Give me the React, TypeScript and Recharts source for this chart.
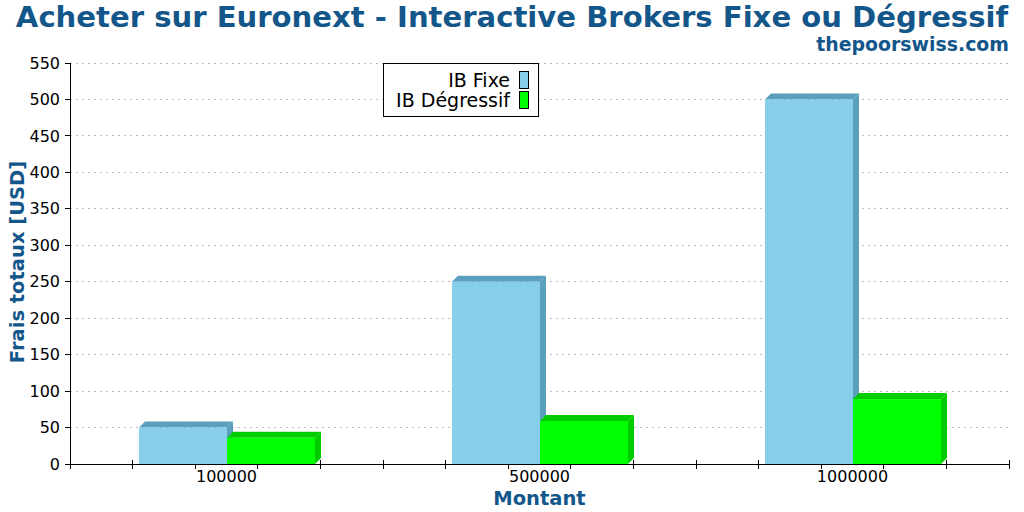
import React from "react";
import {
  BarChart,
  Bar,
  XAxis,
  YAxis,
  CartesianGrid,
} from "recharts";

const montants = ["100000", "500000", "1000000"];
const fraisFixe = [50, 250, 500];
const fraisDegressif = [36, 59, 89];
const yTicks = [0, 50, 100, 150, 200, 250, 300, 350, 400, 450, 500, 550];
// five minor tick steps per category
const minorSteps = [0, 1, 2, 3, 4, 5, 6, 7, 8, 9, 10, 11, 12, 13, 14, 15];

const seriesNames = ["IB Fixe", "IB Dégressif"];
const seriesColors = ["#87ceeb", "#00ff00"];
const seriesShades = ["#5a9fbc", "#00cc00"];

const TITLE_COLOR = "#13568a";
const FONT = "'DejaVu Sans', sans-serif";
const DEPTH = 6;
const PLOT_BOTTOM = 464;

const data = montants.map((m, i) => ({
  montant: m,
  fixe: fraisFixe[i],
  degressif: fraisDegressif[i],
}));

// front face + top + right side, a fake 3d block
const make3dBar = (front: string, shade: string) => (props: any) => {
  const { x, y, width, height } = props;
  if (!height || height <= 0) return <g />;
  const d = DEPTH;
  return (
    <g>
      <polygon
        points={`${x},${y} ${x + d},${y - d} ${x + width + d},${y - d} ${x + width},${y}`}
        fill={shade}
      />
      <polygon
        points={`${x + width},${y} ${x + width + d},${y - d} ${x + width + d},${y + height - d} ${x + width},${y + height}`}
        fill={shade}
      />
      <rect x={x} y={y} width={width} height={height} fill={front} />
    </g>
  );
};

const minorTickCoords = ({ offset }: any) =>
  minorSteps.map(
    (s) => offset.left + (s * offset.width) / minorSteps[minorSteps.length - 1]
  );

const axisLineStyle = { stroke: "#000", shapeRendering: "crispEdges" };

export default function App() {
  return (
    <div
      style={{
        position: "absolute",
        left: 0,
        top: 0,
        width: 1024,
        height: 512,
        background: "#fff",
        fontFamily: FONT,
      }}
    >
      <svg
        width={1024}
        height={512}
        style={{ position: "absolute", left: 0, top: 0 }}
      >
        <text
          x={512}
          y={27}
          textAnchor="middle"
          fontSize={29.1}
          fontWeight="bold"
          fill={TITLE_COLOR}
          fontFamily={FONT}
        >
          Acheter sur Euronext - Interactive Brokers Fixe ou Dégressif
        </text>
        <text
          x={1009}
          y={51}
          textAnchor="end"
          fontSize={18.9}
          fontWeight="bold"
          fill={TITLE_COLOR}
          fontFamily={FONT}
        >
          thepoorswiss.com
        </text>
        <text
          x={24}
          y={262}
          transform="rotate(-90 24 262)"
          textAnchor="middle"
          fontSize={19.5}
          fontWeight="bold"
          fill={TITLE_COLOR}
          fontFamily={FONT}
        >
          Frais totaux [USD]
        </text>
        <text
          x={539.5}
          y={505}
          textAnchor="middle"
          fontSize={19.5}
          fontWeight="bold"
          fill={TITLE_COLOR}
          fontFamily={FONT}
        >
          Montant
        </text>
      </svg>
      <div style={{ position: "absolute", left: 0, top: 0 }}>
        <BarChart
          width={1024}
          height={512}
          data={data}
          margin={{ top: 63, right: 15, bottom: 0, left: 0 }}
          barGap={0}
        >
          <CartesianGrid
            vertical={false}
            stroke="#bbbbbb"
            strokeDasharray="2 4"
            shapeRendering="crispEdges"
            xAxisId="cat"
            yAxisId="left"
          />
          {/* minor x ticks, crossing the axis line */}
          <CartesianGrid
            horizontal={false}
            y={PLOT_BOTTOM - 4}
            height={9}
            stroke="#000"
            shapeRendering="crispEdges"
            verticalCoordinatesGenerator={minorTickCoords}
            xAxisId="cat"
            yAxisId="left"
          />
          <XAxis
            xAxisId="cat"
            dataKey="montant"
            height={48}
            stroke="#000"
            axisLine={axisLineStyle}
            tickLine={false}
            tickSize={0}
            tickMargin={7}
            tick={{ fontSize: 16, fill: "#000", fontFamily: FONT }}
          />
          <YAxis
            yAxisId="left"
            domain={[0, 550]}
            ticks={yTicks}
            interval={0}
            width={70}
            stroke="#000"
            axisLine={axisLineStyle}
            tickLine={axisLineStyle}
            tickSize={5}
            tickMargin={5}
            tick={{ fontSize: 16, fill: "#000", fontFamily: FONT }}
          />
          <YAxis
            yAxisId="right"
            orientation="right"
            domain={[0, 550]}
            width={0}
            stroke="#000"
            tick={false}
            tickLine={false}
            axisLine={axisLineStyle}
          />
          <Bar
            xAxisId="cat"
            yAxisId="left"
            dataKey="fixe"
            name={seriesNames[0]}
            fill={seriesColors[0]}
            barSize={88}
            shape={make3dBar(seriesColors[0], seriesShades[0])}
            isAnimationActive={false}
          />
          <Bar
            xAxisId="cat"
            yAxisId="left"
            dataKey="degressif"
            name={seriesNames[1]}
            fill={seriesColors[1]}
            barSize={88}
            shape={make3dBar(seriesColors[1], seriesShades[1])}
            isAnimationActive={false}
          />
        </BarChart>
      </div>
      <div
        style={{
          position: "absolute",
          left: 383,
          top: 63,
          width: 156,
          height: 54,
          boxSizing: "border-box",
          border: "1px solid #000",
          background: "#fff",
          paddingTop: 6,
          paddingRight: 9,
        }}
      >
        {seriesNames.map((name, i) => (
          <div
            key={name}
            style={{
              display: "flex",
              justifyContent: "flex-end",
              alignItems: "center",
              height: 20,
              lineHeight: "20px",
              gap: 9,
              fontSize: 19,
              color: "#000",
            }}
          >
            <span>{name}</span>
            <span
              style={{
                display: "inline-block",
                width: 10,
                height: 18,
                boxSizing: "border-box",
                border: "1px solid #000",
                background: seriesColors[i],
              }}
            />
          </div>
        ))}
      </div>
    </div>
  );
}
